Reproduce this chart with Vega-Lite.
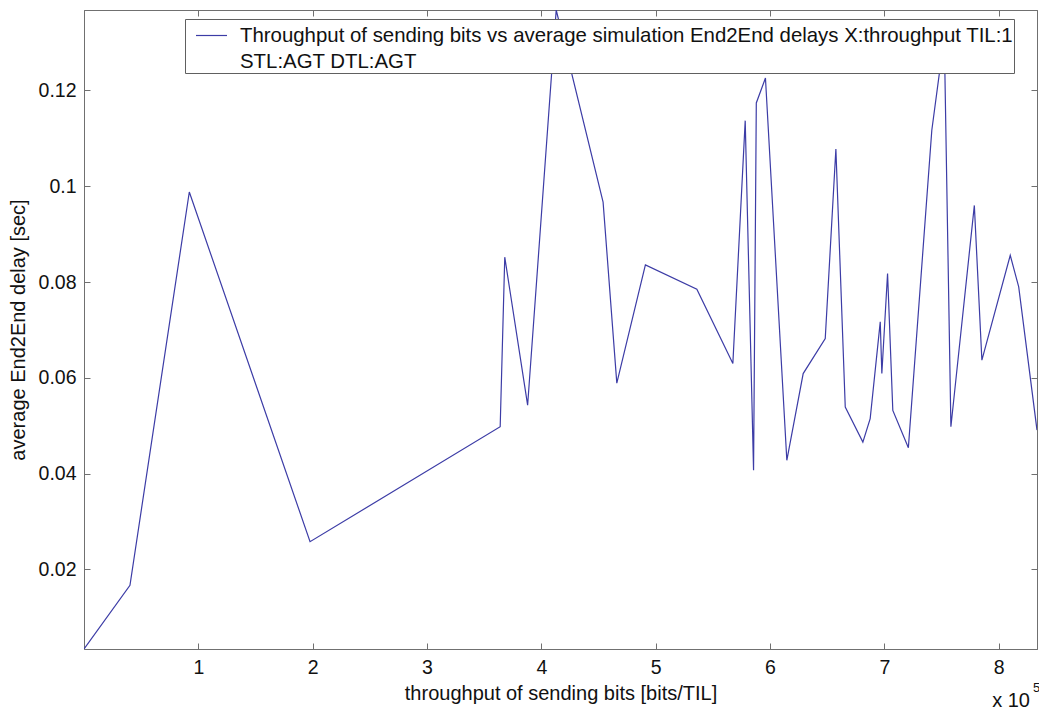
{
  "$schema": "https://vega.github.io/schema/vega-lite/v6.json",
  "width": 953,
  "height": 639,
  "autosize": "none",
  "padding": {"left": 84, "top": 10, "right": 2, "bottom": 63},
  "background": "white",
  "config": {
    "font": "Liberation Sans",
    "view": {"stroke": "#707070", "strokeWidth": 1},
    "style": {"guide-label": {"lineHeight": 26.5}},
    "axis": {
      "domainColor": "#707070",
      "tickColor": "#707070",
      "tickSize": -6,
      "labelColor": "#111111",
      "labelFont": "Liberation Sans",
      "labelFontSize": 19.5,
      "titleFont": "Liberation Sans",
      "titleFontSize": 20,
      "titleFontWeight": "normal",
      "titleColor": "#111111",
      "grid": false
    },
    "legend": {
      "orient": "none",
      "legendX": 101,
      "legendY": 9,
      "strokeColor": "#606060",
      "fillColor": "white",
      "padding": 0,
      "symbolOffset": 10,
      "symbolType": "stroke",
      "symbolSize": 961,
      "symbolStrokeWidth": 1.2,
      "labelFont": "Liberation Sans",
      "labelFontSize": 20.4,
      "labelColor": "#111111",
      "labelLimit": 0,
      "labelOffset": 12
    }
  },
  "data": {
    "values": [
      {"x": 0, "y": 0.0034, "series": "Throughput of sending bits vs average simulation End2End delays X:throughput TIL:1| STL:AGT DTL:AGT"},
      {"x": 40200, "y": 0.0167, "series": "Throughput of sending bits vs average simulation End2End delays X:throughput TIL:1| STL:AGT DTL:AGT"},
      {"x": 92100, "y": 0.0988, "series": "Throughput of sending bits vs average simulation End2End delays X:throughput TIL:1| STL:AGT DTL:AGT"},
      {"x": 197700, "y": 0.0258, "series": "Throughput of sending bits vs average simulation End2End delays X:throughput TIL:1| STL:AGT DTL:AGT"},
      {"x": 364000, "y": 0.0498, "series": "Throughput of sending bits vs average simulation End2End delays X:throughput TIL:1| STL:AGT DTL:AGT"},
      {"x": 368000, "y": 0.0852, "series": "Throughput of sending bits vs average simulation End2End delays X:throughput TIL:1| STL:AGT DTL:AGT"},
      {"x": 388000, "y": 0.0543, "series": "Throughput of sending bits vs average simulation End2End delays X:throughput TIL:1| STL:AGT DTL:AGT"},
      {"x": 413000, "y": 0.1368, "series": "Throughput of sending bits vs average simulation End2End delays X:throughput TIL:1| STL:AGT DTL:AGT"},
      {"x": 454000, "y": 0.0967, "series": "Throughput of sending bits vs average simulation End2End delays X:throughput TIL:1| STL:AGT DTL:AGT"},
      {"x": 466000, "y": 0.0589, "series": "Throughput of sending bits vs average simulation End2End delays X:throughput TIL:1| STL:AGT DTL:AGT"},
      {"x": 491000, "y": 0.0836, "series": "Throughput of sending bits vs average simulation End2End delays X:throughput TIL:1| STL:AGT DTL:AGT"},
      {"x": 536000, "y": 0.0785, "series": "Throughput of sending bits vs average simulation End2End delays X:throughput TIL:1| STL:AGT DTL:AGT"},
      {"x": 567500, "y": 0.063, "series": "Throughput of sending bits vs average simulation End2End delays X:throughput TIL:1| STL:AGT DTL:AGT"},
      {"x": 578300, "y": 0.1137, "series": "Throughput of sending bits vs average simulation End2End delays X:throughput TIL:1| STL:AGT DTL:AGT"},
      {"x": 585600, "y": 0.0407, "series": "Throughput of sending bits vs average simulation End2End delays X:throughput TIL:1| STL:AGT DTL:AGT"},
      {"x": 588000, "y": 0.1174, "series": "Throughput of sending bits vs average simulation End2End delays X:throughput TIL:1| STL:AGT DTL:AGT"},
      {"x": 596000, "y": 0.1226, "series": "Throughput of sending bits vs average simulation End2End delays X:throughput TIL:1| STL:AGT DTL:AGT"},
      {"x": 614700, "y": 0.0428, "series": "Throughput of sending bits vs average simulation End2End delays X:throughput TIL:1| STL:AGT DTL:AGT"},
      {"x": 629000, "y": 0.0609, "series": "Throughput of sending bits vs average simulation End2End delays X:throughput TIL:1| STL:AGT DTL:AGT"},
      {"x": 648300, "y": 0.0682, "series": "Throughput of sending bits vs average simulation End2End delays X:throughput TIL:1| STL:AGT DTL:AGT"},
      {"x": 657600, "y": 0.1078, "series": "Throughput of sending bits vs average simulation End2End delays X:throughput TIL:1| STL:AGT DTL:AGT"},
      {"x": 665800, "y": 0.0539, "series": "Throughput of sending bits vs average simulation End2End delays X:throughput TIL:1| STL:AGT DTL:AGT"},
      {"x": 681200, "y": 0.0466, "series": "Throughput of sending bits vs average simulation End2End delays X:throughput TIL:1| STL:AGT DTL:AGT"},
      {"x": 687600, "y": 0.0515, "series": "Throughput of sending bits vs average simulation End2End delays X:throughput TIL:1| STL:AGT DTL:AGT"},
      {"x": 696400, "y": 0.0717, "series": "Throughput of sending bits vs average simulation End2End delays X:throughput TIL:1| STL:AGT DTL:AGT"},
      {"x": 697800, "y": 0.0609, "series": "Throughput of sending bits vs average simulation End2End delays X:throughput TIL:1| STL:AGT DTL:AGT"},
      {"x": 702800, "y": 0.0818, "series": "Throughput of sending bits vs average simulation End2End delays X:throughput TIL:1| STL:AGT DTL:AGT"},
      {"x": 707400, "y": 0.0532, "series": "Throughput of sending bits vs average simulation End2End delays X:throughput TIL:1| STL:AGT DTL:AGT"},
      {"x": 721000, "y": 0.0454, "series": "Throughput of sending bits vs average simulation End2End delays X:throughput TIL:1| STL:AGT DTL:AGT"},
      {"x": 741500, "y": 0.1117, "series": "Throughput of sending bits vs average simulation End2End delays X:throughput TIL:1| STL:AGT DTL:AGT"},
      {"x": 752400, "y": 0.1313, "series": "Throughput of sending bits vs average simulation End2End delays X:throughput TIL:1| STL:AGT DTL:AGT"},
      {"x": 758200, "y": 0.0498, "series": "Throughput of sending bits vs average simulation End2End delays X:throughput TIL:1| STL:AGT DTL:AGT"},
      {"x": 778700, "y": 0.096, "series": "Throughput of sending bits vs average simulation End2End delays X:throughput TIL:1| STL:AGT DTL:AGT"},
      {"x": 785300, "y": 0.0637, "series": "Throughput of sending bits vs average simulation End2End delays X:throughput TIL:1| STL:AGT DTL:AGT"},
      {"x": 810100, "y": 0.0856, "series": "Throughput of sending bits vs average simulation End2End delays X:throughput TIL:1| STL:AGT DTL:AGT"},
      {"x": 817500, "y": 0.079, "series": "Throughput of sending bits vs average simulation End2End delays X:throughput TIL:1| STL:AGT DTL:AGT"},
      {"x": 833500, "y": 0.0491, "series": "Throughput of sending bits vs average simulation End2End delays X:throughput TIL:1| STL:AGT DTL:AGT"}
    ]
  },
  "layer": [
    {
      "mark": {"type": "line", "strokeWidth": 1.2, "clip": true},
      "encoding": {
        "x": {
          "field": "x", "type": "quantitative",
          "scale": {"domain": [0, 833500], "nice": false, "zero": false},
          "axis": {
            "orient": "bottom",
            "values": [100000, 200000, 300000, 400000, 500000, 600000, 700000, 800000],
            "labelExpr": "format(datum.value / 100000, 'd')",
            "labelPadding": 15,
            "title": "throughput of sending bits [bits/TIL]",
            "titlePadding": 7
          }
        },
        "y": {
          "field": "y", "type": "quantitative",
          "scale": {"domain": [0.0034, 0.1368], "nice": false, "zero": false},
          "axis": {
            "orient": "left",
            "values": [0.02, 0.04, 0.06, 0.08, 0.1, 0.12],
            "labelExpr": "format(datum.value, '~g')",
            "labelPadding": 14,
            "title": "average End2End delay [sec]",
            "titlePadding": 10
          }
        },
        "color": {
          "field": "series", "type": "nominal",
          "scale": {"range": ["#3c3ca6"]},
          "legend": {"title": null, "labelExpr": "split(replace(replace(datum.label, '| ', '|\u00a0'), 'TIL:1|', 'TIL:1\u00a0\u00a0\u00a0\u00a0\u00a0|'), '|')"}
        }
      }
    },
    {
      "mark": {"type": "point", "opacity": 0},
      "encoding": {
        "x": {
          "field": "x", "type": "quantitative",
          "scale": {"domain": [0, 833500], "nice": false, "zero": false},
          "axis": {
            "orient": "top",
            "values": [100000, 200000, 300000, 400000, 500000, 600000, 700000, 800000],
            "labels": false, "title": null
          }
        },
        "y": {
          "field": "y", "type": "quantitative",
          "scale": {"domain": [0.0034, 0.1368], "nice": false, "zero": false},
          "axis": {
            "orient": "right",
            "values": [0.02, 0.04, 0.06, 0.08, 0.1, 0.12],
            "labels": false, "title": null
          }
        }
      }
    },
    {
      "data": {"values": [{"x": 833500, "y": 0.0034, "t": "x 10", "s": "5"}]},
      "layer": [
        {
          "mark": {"type": "text", "align": "right", "baseline": "middle", "dx": -7, "dy": 52, "fontSize": 20, "font": "Liberation Sans", "color": "#111111"},
          "encoding": {
            "x": {"field": "x", "type": "quantitative", "axis": null},
            "y": {"field": "y", "type": "quantitative", "axis": null},
            "text": {"field": "t"}
          }
        },
        {
          "mark": {"type": "text", "align": "left", "baseline": "middle", "dx": -4, "dy": 39, "fontSize": 13, "font": "Liberation Sans", "color": "#111111"},
          "encoding": {
            "x": {"field": "x", "type": "quantitative", "axis": null},
            "y": {"field": "y", "type": "quantitative", "axis": null},
            "text": {"field": "s"}
          }
        }
      ]
    }
  ],
  "resolve": {"axis": {"x": "independent", "y": "independent"}}
}
